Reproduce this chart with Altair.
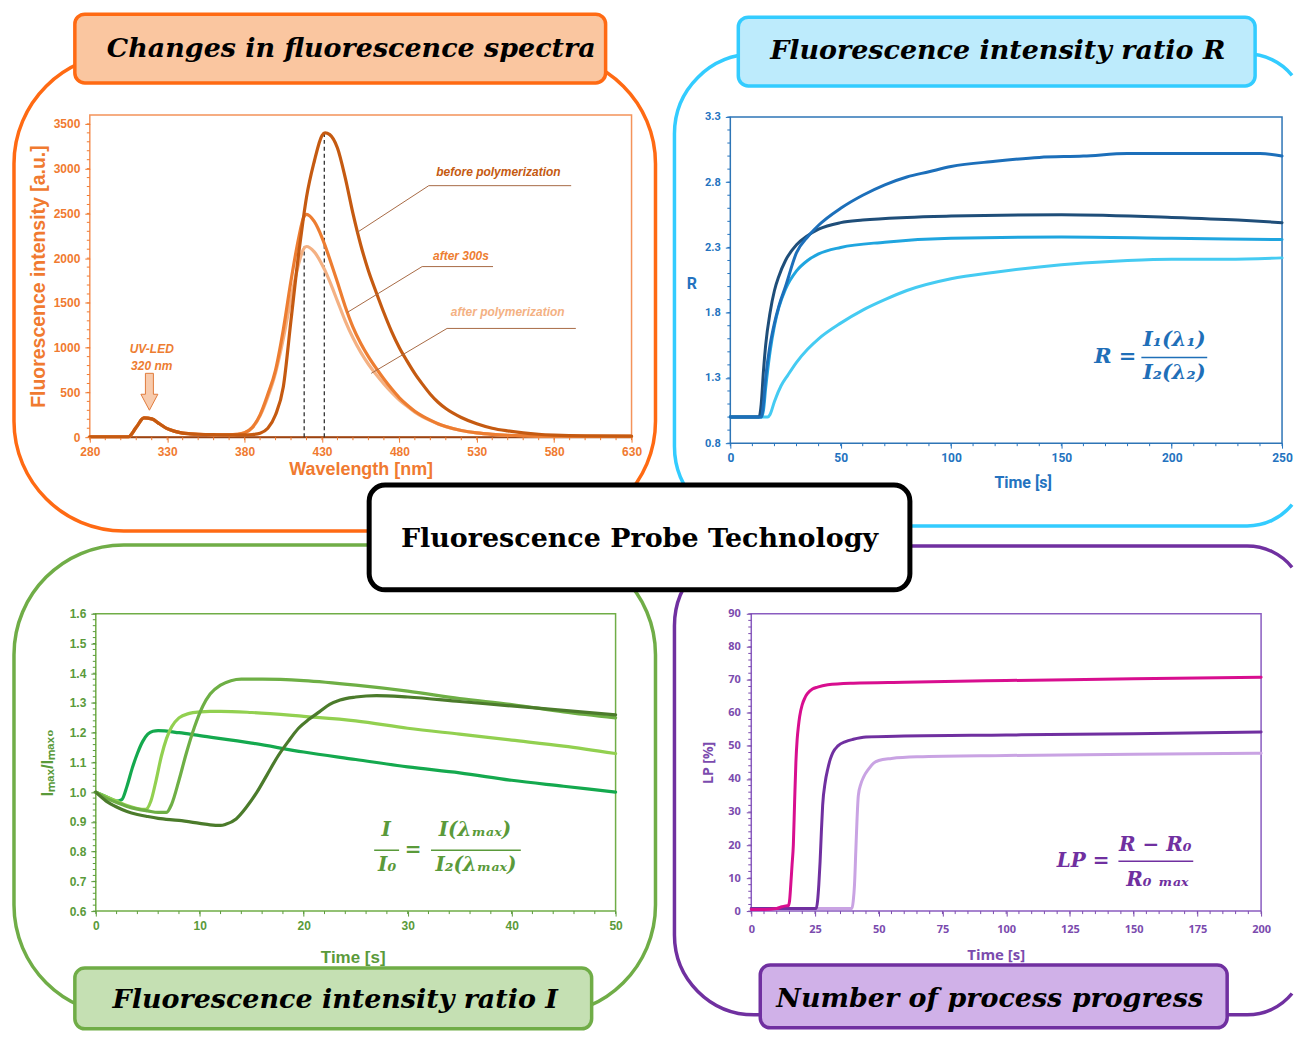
import math
import altair as alt
import pandas as pd

# ======================= DATA =======================
# --- Panel 1: changes in fluorescence spectra ---
wavelength_nm = [280, 290, 300, 305, 310, 315, 320, 325, 330, 335, 340, 345, 350, 360, 370, 375,
                 380, 385, 390, 395, 400, 405, 410, 415, 418, 420, 425, 430, 432, 435, 440, 445,
                 450, 455, 460, 465, 470, 475, 480, 485, 490, 495, 500, 505, 510, 520, 530, 540,
                 550, 560, 570, 580, 600, 630]
before_polymerization = [5, 5, 5, 5, 110, 215, 205, 150, 95, 65, 45, 38, 33, 28, 25, 25,
                         25, 30, 45, 100, 250, 560, 1310, 2060, 2450, 2680, 3080, 3370, 3400, 3380, 3230, 2900,
                         2500, 2150, 1860, 1620, 1390, 1180, 1000, 850, 710, 590, 480, 390, 320, 220, 150, 100,
                         70, 48, 33, 24, 15, 12]
after_300s = [5, 5, 5, 5, 110, 215, 205, 150, 95, 65, 45, 38, 33, 28, 27, 32,
              50, 110, 250, 480, 750, 1200, 1750, 2230, 2450, 2490, 2410, 2230, 2140, 1990, 1730, 1460,
              1230, 1050, 900, 770, 650, 540, 440, 360, 290, 235, 190, 150, 120, 75, 48, 32,
              22, 16, 13, 11, 10, 10]
after_polymerization = [5, 5, 5, 5, 110, 215, 205, 150, 95, 65, 45, 38, 33, 28, 27, 32,
                        50, 105, 240, 450, 720, 1100, 1550, 1940, 2100, 2130, 2070, 1930, 1860, 1740, 1520, 1300,
                        1110, 950, 815, 700, 595, 500, 415, 345, 280, 228, 185, 148, 118, 75, 48, 32,
                        22, 16, 13, 11, 10, 10]
spectrum_x_ticks = [280, 330, 380, 430, 480, 530, 580, 630]
spectrum_y_ticks = [0, 500, 1000, 1500, 2000, 2500, 3000, 3500]
peak_nm = [418.5, 431.5]
peak_top = [2130, 3400]
note_texts = ["before polymerization", "after 300s", "after polymerization"]
note_colors = ["#C55A11", "#ED7D31", "#F4B183"]
note_x = [544, 519.8, 550]
note_y = [2965, 2029, 1393]
note_line_x1 = [499, 494.7, 510.8]
note_line_x2 = [591, 540.5, 594]
note_line_y = [2810, 1906, 1215]
note_target_x = [452.5, 446.3, 461.8]
note_target_y = [2285, 1393, 713]
uv_arrow_x = [318.5]
uv_arrow_y = [513]
uv_label_x = [320, 320]
uv_label_y = [981, 791]
uv_label_text = ["UV-LED", "320 nm"]

# --- Panel 2: fluorescence intensity ratio R ---
r1_time = [0, 5, 10, 14, 15, 16, 18, 20, 22, 25, 30, 35, 40, 50, 60, 70, 80, 90, 100, 120, 140, 160, 180, 200, 220, 240, 250]
r1_val = [1.0, 1.0, 1.0, 1.0, 1.1, 1.3, 1.55, 1.72, 1.85, 2.0, 2.26, 2.38, 2.47, 2.6, 2.7, 2.78, 2.84, 2.88, 2.92, 2.96, 2.99, 3.0, 3.02, 3.02, 3.02, 3.02, 3.0]
r2_time = [0, 5, 10, 13, 14, 15, 16, 18, 20, 22, 25, 30, 35, 40, 50, 60, 80, 100, 150, 200, 230, 250]
r2_val = [1.0, 1.0, 1.0, 1.0, 1.1, 1.35, 1.55, 1.8, 1.97, 2.08, 2.2, 2.32, 2.39, 2.44, 2.49, 2.51, 2.53, 2.54, 2.55, 2.53, 2.51, 2.49]
r3_time = [0, 5, 10, 14, 15, 16, 18, 20, 22, 25, 30, 35, 40, 50, 70, 100, 150, 200, 250]
r3_val = [1.0, 1.0, 1.0, 1.0, 1.05, 1.22, 1.5, 1.7, 1.84, 1.98, 2.12, 2.2, 2.25, 2.3, 2.34, 2.37, 2.38, 2.37, 2.36]
r4_time = [0, 5, 10, 15, 17, 18, 20, 23, 26, 30, 35, 40, 50, 60, 70, 80, 100, 120, 140, 160, 180, 200, 225, 250]
r4_val = [1.0, 1.0, 1.0, 1.0, 1.0, 1.02, 1.12, 1.24, 1.32, 1.42, 1.52, 1.6, 1.72, 1.82, 1.9, 1.97, 2.06, 2.11, 2.15, 2.18, 2.2, 2.21, 2.21, 2.22]
r_x_ticks = [0, 50, 100, 150, 200, 250]
r_y_ticks = [0.8, 1.3, 1.8, 2.3, 2.8, 3.3]

# --- Panel 3: fluorescence intensity ratio I ---
ia_time = [0, 1, 2, 2.5, 3, 3.5, 4, 4.5, 5, 5.5, 6, 8, 10, 15, 20, 25, 30, 35, 40, 45, 50]
ia_val = [1.0, 0.985, 0.97, 0.975, 1.02, 1.08, 1.13, 1.17, 1.195, 1.205, 1.207, 1.2, 1.19, 1.165, 1.135, 1.11, 1.085, 1.065, 1.04, 1.02, 1.0]
ib_time = [0, 1, 2, 3, 4, 4.8, 5.3, 5.8, 6.3, 6.8, 7.3, 8, 9, 10, 11, 12, 15, 20, 25, 30, 35, 40, 45, 50]
ib_val = [1.0, 0.985, 0.97, 0.955, 0.945, 0.942, 0.97, 1.04, 1.12, 1.18, 1.22, 1.25, 1.265, 1.27, 1.272, 1.272, 1.268, 1.255, 1.24, 1.215, 1.195, 1.175, 1.155, 1.13]
ic_time = [0, 1, 2, 3, 4, 5, 6, 6.8, 7.3, 8, 8.7, 9.5, 10.3, 11, 12, 13, 14, 16, 20, 25, 30, 35, 40, 45, 50]
ic_val = [1.0, 0.98, 0.965, 0.952, 0.943, 0.937, 0.932, 0.932, 0.96, 1.04, 1.13, 1.22, 1.29, 1.33, 1.36, 1.375, 1.38, 1.38, 1.375, 1.36, 1.34, 1.315, 1.295, 1.27, 1.25]
id_time = [0, 1, 2, 3, 4, 5, 6, 8, 10, 11, 12, 12.5, 13.5, 14.5, 15.5, 16.5, 17.5, 18.5, 19.5, 20.5, 21.5, 22.5, 23.5, 25, 27, 30, 35, 40, 45, 50]
id_val = [1.0, 0.97, 0.95, 0.935, 0.925, 0.918, 0.912, 0.905, 0.895, 0.89, 0.888, 0.892, 0.91, 0.95, 1.0, 1.06, 1.12, 1.17, 1.215, 1.245, 1.27, 1.295, 1.31, 1.32, 1.325, 1.32, 1.305, 1.29, 1.275, 1.26]
i_x_ticks = [0, 10, 20, 30, 40, 50]
i_y_ticks = [0.6, 0.7, 0.8, 0.9, 1.0, 1.1, 1.2, 1.3, 1.4, 1.5, 1.6]

# --- Panel 4: number of process progress ---
lp1_time = [0, 5, 10, 12, 13, 14, 14.5, 15, 15.5, 16, 16.5, 17, 17.5, 18, 18.5, 19, 20, 21, 22, 24, 26, 30, 40, 60, 100, 150, 200]
lp1_val = [0.5, 0.5, 0.8, 1.3, 1.5, 1.6, 1.6, 3, 8, 14, 20, 33, 45, 52, 56, 59, 62.5, 64.5, 65.8, 67.2, 67.8, 68.5, 69, 69.3, 69.8, 70.3, 70.8]
lp2_time = [0, 10, 20, 25.5, 26, 26.5, 27, 27.5, 28, 29, 30, 31, 32, 34, 37, 40, 45, 60, 100, 150, 200]
lp2_val = [0.8, 0.8, 0.8, 0.8, 3, 8, 15, 24, 32, 39, 43, 46, 48, 50, 51.3, 52, 52.7, 53, 53.3, 53.7, 54.2]
lp3_time = [0, 20, 39.5, 40, 40.5, 41, 41.5, 42, 43, 44, 46, 48, 50, 55, 65, 100, 150, 200]
lp3_val = [0.8, 0.8, 0.8, 3, 8, 18, 28, 35, 38.5, 40.5, 43, 44.8, 45.6, 46.2, 46.7, 47.1, 47.5, 47.8]
lp_x_ticks = [0, 25, 50, 75, 100, 125, 150, 175, 200]
lp_y_ticks = [0, 10, 20, 30, 40, 50, 60, 70, 80, 90]

# ======================= STYLE / LAYOUT =======================
SERIF = "DejaVu Serif"
ORANGE, CYAN, GREEN, PURPLE = "#FF6A13", "#33CCFF", "#70AD47", "#7030A0"

O_TL, W_TL, H_TL = (90, 114), 543, 323
O_TR, W_TR, H_TR = (732, 114), 553, 329
O_BL, W_BL, H_BL = (90, 614), 527, 298
O_BR, W_BR, H_BR = (732, 614), 532, 298


def one_row():
    return pd.DataFrame({"k": [0]})


def px_rect(o, x1, y1, x2, y2, **mk):
    return alt.Chart(one_row()).mark_rect(**mk).encode(
        x=alt.value(x1 - o[0]), x2=alt.value(x2 - o[0]),
        y=alt.value(y1 - o[1]), y2=alt.value(y2 - o[1]))


def px_text(o, s, x, y, **mk):
    return alt.Chart(one_row()).mark_text(text=s, **mk).encode(
        x=alt.value(x - o[0]), y=alt.value(y - o[1]))


def px_hline(o, x1, x2, y, **mk):
    return alt.Chart(one_row()).mark_rule(**mk).encode(
        x=alt.value(x1 - o[0]), x2=alt.value(x2 - o[0]), y=alt.value(y - o[1]))


def px_shape(path, **mk):
    return alt.Chart(one_row()).mark_point(shape=path, size=4, filled=False, opacity=1, **mk).encode(
        x=alt.value(0), y=alt.value(0))


def open_frame_path(o, left, top, bottom, r_left, r_right, cx_right, x_cut):
    dy = math.sqrt(r_right ** 2 - (x_cut - cx_right) ** 2)

    def P(x, y):
        return f"{x - o[0]:.1f},{y - o[1]:.1f}"
    tc, bc = top + r_right, bottom - r_right
    return (f"M{P(x_cut, tc - dy)} A{r_right},{r_right} 0 0 0 {P(cx_right, top)} "
            f"L{P(left + r_left, top)} A{r_left},{r_left} 0 0 0 {P(left, top + r_left)} "
            f"L{P(left, bottom - r_left)} A{r_left},{r_left} 0 0 0 {P(left + r_left, bottom)} "
            f"L{P(cx_right, bottom)} A{r_right},{r_right} 0 0 0 {P(x_cut, bc + dy)}")


def make_axis(values, color, font, lsize, title, tsize, fmt=None, **kw):
    d = dict(values=values, domain=False, grid=False, labelColor=color, labelFont=font,
             labelFontSize=lsize, labelFontWeight="bold", labelFlush=False, labelOverlap=False,
             tickColor=color, tickSize=5, tickWidth=1, title=title, titleColor=color,
             titleFont=font, titleFontSize=tsize, titleFontWeight="bold", zindex=1)
    if fmt:
        d["format"] = fmt
    d.update(kw)
    return alt.Axis(**d)


class Panel:
    """Shared scales and axes of one plot; every data layer uses the same x/y definitions."""

    def __init__(self, xdom, ydom, ax, ay, h):
        self.xs = alt.Scale(domain=xdom, nice=False, zero=False)
        self.ys = alt.Scale(domain=ydom, nice=False, zero=False)
        self.ax, self.ay, self.h = ax, ay, h

    def X(self, f="x"):
        return alt.X(f + ":Q", scale=self.xs, axis=self.ax)

    def Y(self, f="y"):
        return alt.Y(f + ":Q", scale=self.ys, axis=self.ay)

    def line(self, x, y, color, width):
        df = pd.DataFrame({"x": x, "y": y})
        return alt.Chart(df).mark_line(color=color, strokeWidth=width, interpolate="monotone",
                                       strokeCap="round", strokeJoin="round").encode(
            x=self.X(), y=self.Y())

    def box(self, x0, x1, y0, y1, color, width=1.5):
        df = pd.DataFrame({"x": [x0], "x2": [x1], "y": [y0], "y2": [y1]})
        return alt.Chart(df).mark_rect(filled=False, stroke=color, strokeWidth=width).encode(
            x=self.X(), x2="x2:Q", y=self.Y(), y2="y2:Q")

    def segments(self, x, x2, y, y2, **mk):
        df = pd.DataFrame({"x": x, "x2": x2, "y": y, "y2": y2})
        return alt.Chart(df).mark_rule(**mk).encode(x=self.X(), x2="x2:Q", y=self.Y(), y2="y2:Q")

    def minor_y(self, vals, color, x0=0, length=3):
        df = pd.DataFrame({"y": vals})
        return alt.Chart(df).mark_rule(color=color, strokeWidth=1).encode(
            y=self.Y(), x=alt.value(x0), x2=alt.value(x0 - length))

    def minor_x(self, vals, color, length=3):
        df = pd.DataFrame({"x": vals})
        return alt.Chart(df).mark_rule(color=color, strokeWidth=1).encode(
            x=self.X(), y=alt.value(self.h), y2=alt.value(self.h + length))


title_style = dict(font=SERIF, fontSize=27, fontWeight="bold", fontStyle="italic",
                   color="black", align="center", baseline="middle")

# ======================= PANEL 1 (top-left) =======================
o = O_TL
c_tl = "#F07A30"
p1 = Panel([280, 630], [0, 3600],
           make_axis(spectrum_x_ticks, c_tl, "Liberation Sans", 12, "Wavelength [nm]", 18,
                     labelPadding=4, titlePadding=3),
           make_axis(spectrum_y_ticks, c_tl, "Liberation Sans", 12, "Fluorescence intensity [a.u.]", 19.5,
                     fmt="d", labelPadding=5, titlePadding=5),
           H_TL)

notes_df = pd.DataFrame({"x": note_x, "y": note_y, "t": note_texts, "c": note_colors})
arrow_df = pd.DataFrame({"x": uv_arrow_x, "y": uv_arrow_y})
uv_df = pd.DataFrame({"x": uv_label_x, "y": uv_label_y, "t": uv_label_text})

p1_layers = [
    px_rect(o, 8, 8, 1299, 1032, color="white"),
    px_rect(o, 14, 53, 657, 531, filled=False, stroke=ORANGE, strokeWidth=3.5, cornerRadius=110),
    p1.box(280, 630, 0, 3600, "#F4935A", 1.5),
    alt.Chart(one_row()).mark_rule(color="#9A4313", strokeWidth=2).encode(
        x=alt.value(0), x2=alt.value(W_TL), y=alt.value(H_TL)),
    p1.minor_y(list(range(0, 3600, 100)), c_tl),
    p1.minor_x(list(range(280, 631, 10)), c_tl),
    p1.segments(peak_nm, peak_nm, [0, 0], peak_top, color="#333333", strokeWidth=1.3, strokeDash=[4, 3]),
    p1.line(wavelength_nm, after_polymerization, "#F4B183", 3.2),
    p1.line(wavelength_nm, after_300s, "#ED7D31", 3.2),
    p1.line(wavelength_nm, before_polymerization, "#C55A11", 3.2),
    p1.segments(note_line_x1, note_line_x2, note_line_y, note_line_y, color="#A86A45", strokeWidth=1),
    p1.segments(note_line_x1, note_target_x, note_line_y, note_target_y, color="#A86A45", strokeWidth=1),
    alt.Chart(notes_df).mark_text(font="Liberation Sans", fontSize=12, fontWeight="bold",
                                  fontStyle="italic").encode(
        x=p1.X(), y=p1.Y(), text="t:N", color=alt.Color("c:N", scale=None)),
    alt.Chart(arrow_df).mark_point(
        shape="M-4,-18 L4,-18 L4,3 L8.5,3 L0,19 L-8.5,3 L-4,3 Z", size=4, filled=True,
        fill="#F8CBAD", stroke="#E07B3C", strokeWidth=1, opacity=1).encode(x=p1.X(), y=p1.Y()),
    alt.Chart(uv_df).mark_text(font="Liberation Sans", fontSize=12, fontWeight="bold",
                               fontStyle="italic", color="#ED7D31").encode(
        x=p1.X(), y=p1.Y(), text="t:N"),
    px_rect(o, 75, 13, 607, 82, color="#FAC6A0", stroke=ORANGE, strokeWidth=3.5, cornerRadius=10),
    px_text(o, "Changes in fluorescence spectra", 352, 48, **title_style),
]
panel1 = alt.layer(*p1_layers).properties(width=W_TL, height=H_TL)

# ======================= PANEL 2 (top-right) =======================
o = O_TR
c_tr = "#2473C0"
p2 = Panel([0, 250], [0.8, 3.3153],
           make_axis(r_x_ticks, c_tr, "Roboto", 12, "Time [s]", 16, labelPadding=4, titlePadding=11,
                     titleX=293),
           make_axis(r_y_ticks, c_tr, "Roboto", 11, "R", 16, fmt=".1f", labelPadding=5,
                     titleAngle=0, titleX=-39, titleY=169, titleAlign="center", titleBaseline="middle"),
           H_TR)
tr_formula = dict(font=SERIF, fontSize=21, fontWeight="bold", fontStyle="italic",
                  color="#1F6FB8", baseline="middle")
p2_layers = [
    px_shape(open_frame_path(o, 676, 53, 526, 80, 58, 1250, 1295), color=CYAN, strokeWidth=3.5),
    p2.box(0, 250, 0.8, 3.3, "#2E75B6", 1.5),
    p2.minor_x(list(range(0, 251, 10)), c_tr),
    p2.minor_y([round(0.8 + 0.1 * i, 2) for i in range(26)], c_tr),
    p2.line(r4_time, r4_val, "#45CBF2", 3),
    p2.line(r3_time, r3_val, "#1FA5DF", 3),
    p2.line(r2_time, r2_val, "#1F4E79", 3),
    p2.line(r1_time, r1_val, "#1C6FBA", 3),
    px_text(o, "R =", 1139, 357, align="right", **tr_formula),
    px_text(o, "I\u2081(\u03bb\u2081)", 1177, 340, align="center", **tr_formula),
    px_hline(o, 1144, 1210, 357, color="#1F6FB8", strokeWidth=1.5),
    px_text(o, "I\u2082(\u03bb\u2082)", 1177, 373, align="center", **tr_formula),
    px_rect(o, 740, 16, 1258, 85, color="#BDEBFC", stroke=CYAN, strokeWidth=3.5, cornerRadius=10),
    px_text(o, "Fluorescence intensity ratio R", 1000, 50, **title_style),
]
panel2 = alt.layer(*p2_layers).properties(width=W_TR, height=H_TR)

# ======================= PANEL 3 (bottom-left) =======================
o = O_BL
c_bl = "#5A9A3A"
p3 = Panel([-0.576, 50], [0.6, 1.6],
           make_axis(i_x_ticks, c_bl, "Liberation Sans", 12, "Time [s]", 17, labelPadding=4, titlePadding=19),
           make_axis(i_y_ticks, c_bl, "Liberation Sans", 12, "I\u2098\u2090\u2093/I\u2098\u2090\u2093\u2080", 17,
                     fmt=".1f", labelPadding=5, titlePadding=13, offset=-6),
           H_BL)
bl_formula = dict(font=SERIF, fontSize=20, fontWeight="bold", fontStyle="italic",
                  color=c_bl, baseline="middle", align="center")
p3_layers = [
    px_rect(o, 14, 545, 657, 1016, filled=False, stroke=GREEN, strokeWidth=3.5, cornerRadius=110),
    p3.box(0, 50, 0.6, 1.6, GREEN, 1.5),
    p3.minor_x(list(range(0, 51, 2)), c_bl),
    p3.minor_y([round(0.6 + 0.02 * i, 2) for i in range(51)], c_bl, x0=6),
    p3.line(ia_time, ia_val, "#14A94E", 3.2),
    p3.line(ib_time, ib_val, "#92D050", 3.2),
    p3.line(ic_time, ic_val, "#6EAF45", 3.2),
    p3.line(id_time, id_val, "#4B7B2B", 3.2),
    px_text(o, "I", 387, 831, **bl_formula),
    px_hline(o, 375, 400, 851, color=c_bl, strokeWidth=1.5),
    px_text(o, "I\u2080", 388, 866, **bl_formula),
    px_text(o, "=", 414, 851, **bl_formula),
    px_text(o, "I(\u03bb\u2098\u2090\u2093)", 476, 831, **bl_formula),
    px_hline(o, 432, 522, 851, color=c_bl, strokeWidth=1.5),
    px_text(o, "I\u2082(\u03bb\u2098\u2090\u2093)", 477, 866, **bl_formula),
    px_rect(o, 75, 969, 593, 1030, color="#C5E0B3", stroke=GREEN, strokeWidth=3.5, cornerRadius=10),
    px_text(o, "Fluorescence intensity ratio I", 336, 1001, **title_style),
]
panel3 = alt.layer(*p3_layers).properties(width=W_BL, height=H_BL)

# ======================= PANEL 4 (bottom-right) =======================
o = O_BR
c_br = "#7B4BAE"
p4 = Panel([-8.22, 200], [0, 90],
           make_axis(lp_x_ticks, c_br, "Open Sans", 11, "Time [s]", 15, labelPadding=7, titlePadding=14),
           make_axis(lp_y_ticks, c_br, "Open Sans", 11, "LP [%]", 14, labelPadding=6, titlePadding=12,
                     offset=-21),
           H_BR)
br_formula = dict(font=SERIF, fontSize=20, fontWeight="bold", fontStyle="italic",
                  color=PURPLE, baseline="middle")
p4_layers = [
    px_shape(open_frame_path(o, 676, 546, 1016, 80, 58, 1250, 1295), color=PURPLE, strokeWidth=3.5),
    p4.box(0, 200, 0, 90, "#8A5CC0", 1.5),
    p4.minor_x(list(range(0, 201, 5)), c_br),
    p4.minor_y(list(range(0, 91, 2)), c_br, x0=21),
    p4.line(lp3_time, lp3_val, "#C9A3E3", 3),
    p4.line(lp2_time, lp2_val, "#7030A0", 3),
    p4.line(lp1_time, lp1_val, "#D80E8F", 3),
    px_text(o, "LP =", 1112, 862, align="right", **br_formula),
    px_text(o, "R \u2212 R\u2080", 1158, 846, align="center", **br_formula),
    px_hline(o, 1121, 1196, 862, color=PURPLE, strokeWidth=1.5),
    px_text(o, "R\u2080 \u2098\u2090\u2093", 1160, 881, align="center", **br_formula),
    px_rect(o, 762, 966, 1230, 1029, color="#D0B1E8", stroke=PURPLE, strokeWidth=3.5, cornerRadius=10),
    px_text(o, "Number of process progress", 992, 1000, **title_style),
    # central label box (drawn last so it sits above every frame)
    px_rect(o, 370, 485, 912, 590, color="white", stroke="black", strokeWidth=5, cornerRadius=16),
    px_text(o, "Fluorescence Probe Technology", 641, 539, font=SERIF, fontSize=27, fontWeight="bold",
            color="black", align="center", baseline="middle"),
]
panel4 = alt.layer(*p4_layers).properties(width=W_BR, height=H_BR)

chart = alt.concat(panel1, panel2, panel3, panel4, columns=2,
                   spacing={"row": 171, "column": 99}, bounds="flush", align="each"
                   ).properties(padding=0).configure_view(strokeWidth=0)

chart.save("out.html", embed_options={"renderer": "svg", "actions": False})
